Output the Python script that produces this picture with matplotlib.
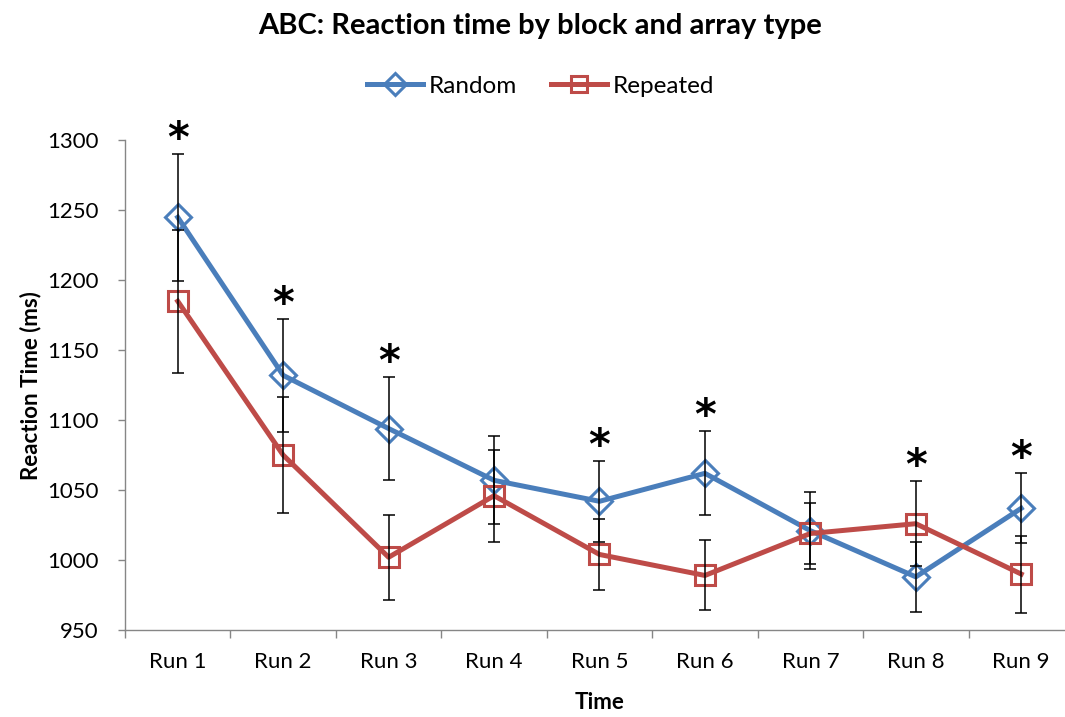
import numpy as np
import matplotlib
matplotlib.use("Agg")
import matplotlib.pyplot as plt

plt.rcParams["font.family"] = ["Lato", "DejaVu Sans"]

BLUE = '#4A7EBB'
RED = '#BE4B48'
AXIS_GRAY = '#868686'

runs = ['Run 1', 'Run 2', 'Run 3', 'Run 4', 'Run 5', 'Run 6', 'Run 7', 'Run 8', 'Run 9']
random_rt = [1245, 1132, 1094, 1057, 1042, 1062, 1021, 988, 1037]
random_err = [45.5, 40.5, 37, 31.5, 29, 30, 27.5, 25, 25]
repeated_rt = [1185, 1075, 1002, 1046, 1004, 989, 1019, 1026, 990]
repeated_err = [51, 41.5, 30.5, 33, 25.5, 25, 22, 30.5, 27.5]
significant = [True, True, True, False, True, True, False, True, True]

x = np.arange(len(runs))

fig = plt.figure(figsize=(10.65, 7.17), dpi=100)
ax = fig.add_axes([0.1174, 0.1213, 0.891, 0.683])

ax.plot(x, random_rt, color=BLUE, linewidth=3.6, marker='D', markersize=13,
        markerfacecolor='none', markeredgecolor=BLUE, markeredgewidth=2.2,
        label='Random', zorder=3)
ax.plot(x, repeated_rt, color=RED, linewidth=3.6, marker='s', markersize=14,
        markerfacecolor='none', markeredgecolor=RED, markeredgewidth=2.2,
        label='Repeated', zorder=3)

ax.errorbar(x, random_rt, yerr=random_err, fmt='none', ecolor='black',
            elinewidth=1.1, capsize=4.5, capthick=1.1, zorder=4)
ax.errorbar(x, repeated_rt, yerr=repeated_err, fmt='none', ecolor='black',
            elinewidth=1.1, capsize=4.5, capthick=1.1, zorder=4)

# significance stars above the highest error bar
for i, sig in enumerate(significant):
    if not sig:
        continue
    top = max(random_rt[i] + random_err[i], repeated_rt[i] + repeated_err[i])
    ax.annotate('*', xy=(x[i], top), xytext=(0, -5), textcoords='offset points',
                ha='center', va='bottom', fontsize=30, fontweight='bold',
                family='DejaVu Sans')

ax.set_xlim(-0.5, len(runs) - 0.5)
ax.set_ylim(950, 1300)
ax.set_yticks(np.arange(950, 1301, 50))

ax.set_xticks(x)
ax.set_xticklabels(runs)
ax.set_xticks(np.arange(-0.5, len(runs)), minor=True)
ax.tick_params(axis='x', which='major', length=0, pad=16, labelsize=16)
ax.tick_params(axis='x', which='minor', length=6, width=1, color=AXIS_GRAY,
               direction='out')
ax.tick_params(axis='y', length=5, width=1, color=AXIS_GRAY, pad=14,
               labelsize=16, direction='out')

for side in ['top', 'right']:
    ax.spines[side].set_visible(False)
for side in ['left', 'bottom']:
    ax.spines[side].set_color(AXIS_GRAY)
    ax.spines[side].set_linewidth(1)

ax.set_xlabel('Time', fontsize=16, fontweight='bold', labelpad=14)
ax.set_ylabel('Reaction Time (ms)', fontsize=16, fontweight='bold', labelpad=4)

fig.suptitle('ABC: Reaction time by block and array type', fontsize=21,
             fontweight='bold', x=0.507, y=0.982, va='top')

ax.legend(loc='center', bbox_to_anchor=(0.438, 1.11), ncol=2, frameon=False,
          fontsize=17.5, handlelength=2.3, columnspacing=1.4, handletextpad=0.25,
          borderaxespad=0, markerscale=0.85)

fig.savefig('out.png', dpi=100)
